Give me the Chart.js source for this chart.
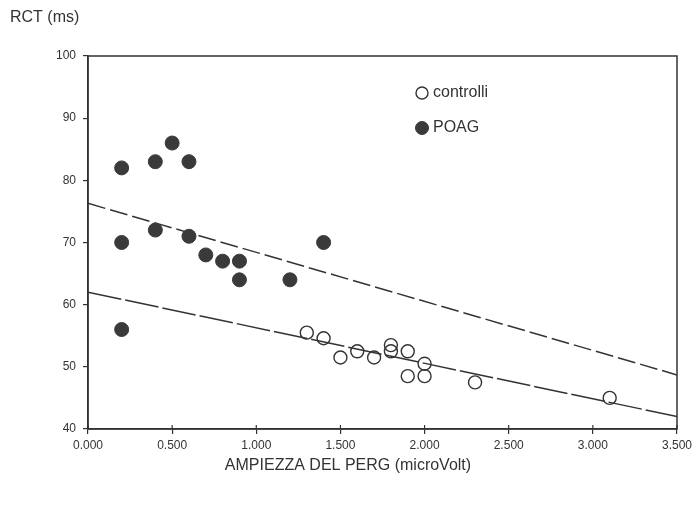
<!DOCTYPE html>
<html>
<head>
<meta charset="utf-8">
<style>
  html, body { margin: 0; padding: 0; background: #fff; }
  #wrap { width: 698px; height: 505px; position: relative; }
</style>
<script src="https://cdn.jsdelivr.net/npm/chart.js@4.4.1/dist/chart.umd.min.js"></script>
</head>
<body>
<div id="wrap"><canvas id="rctChart"></canvas></div>
<script>
// values
const poagX = [0.2, 0.2, 0.2, 0.4, 0.4, 0.5, 0.6, 0.6, 0.7, 0.8, 0.9, 0.9, 1.2, 1.4];
const poagY = [82, 70, 56, 83, 72, 86, 83, 71, 68, 67, 67, 64, 64, 70];

const controlX = [1.3, 1.4, 1.5, 1.6, 1.7, 1.8, 1.8, 1.9, 1.9, 2.0, 2.0, 2.3, 3.1];
const controlY = [55.5, 54.6, 51.5, 52.5, 51.5, 53.5, 52.5, 52.5, 48.5, 50.5, 48.5, 47.5, 45];

// regression lines (end points at x = 0 and x = 3.5)
const lineX = [0, 3.5];
const poagLineY = [76.3, 48.7];
const controlLineY = [62, 42];

const xTickLabels = ['0.000', '0.500', '1.000', '1.500', '2.000', '2.500', '3.000', '3.500'];
const yTickLabels = ['40', '50', '60', '70', '80', '90', '100'];

const ink = '#333';
const toPoints = (xs, ys) => xs.map((x, i) => ({ x: x, y: ys[i] }));

const frameAndText = {
    id: 'frameAndText',
    afterDraw(chart) {
        const ctx = chart.ctx;
        const a = chart.chartArea;
        ctx.save();
        ctx.strokeStyle = ink;
        ctx.lineWidth = 1.5;
        ctx.strokeRect(a.left, a.top, a.right - a.left, a.bottom - a.top);

        // x ticks also poke a little into the plot, like the original
        const xs = chart.scales.x;
        ctx.lineWidth = 1.2;
        xs.ticks.forEach(t => {
            const px = xs.getPixelForValue(t.value);
            ctx.beginPath();
            ctx.moveTo(px, a.bottom);
            ctx.lineTo(px, a.bottom - 4);
            ctx.stroke();
        });

        ctx.fillStyle = ink;
        ctx.textBaseline = 'middle';
        ctx.font = '16px "Liberation Sans", Arial, sans-serif';
        ctx.textAlign = 'left';
        ctx.fillText('RCT (ms)', 10, 18);
        ctx.textAlign = 'center';
        ctx.fillText('AMPIEZZA DEL PERG (microVolt)', 348, 466);

        // legend in the plot
        const rows = [{ ds: chart.data.datasets[1], y: 93 }, { ds: chart.data.datasets[0], y: 128 }];
        ctx.textAlign = 'left';
        rows.forEach(r => {
            ctx.beginPath();
            ctx.arc(422, r.y, r.ds.pointRadius - 0.5, 0, Math.PI * 2);
            ctx.lineWidth = r.ds.borderWidth;
            ctx.strokeStyle = r.ds.borderColor;
            if (r.ds.fill) {
                ctx.fillStyle = r.ds.backgroundColor;
                ctx.fill();
            }
            ctx.stroke();
            ctx.fillStyle = ink;
            ctx.fillText(r.ds.label, 433, r.y);
        });
        ctx.restore();
    }
};

new Chart(document.getElementById('rctChart'), {
    type: 'scatter',
    data: {
        datasets: [
            {
                label: 'POAG',
                data: toPoints(poagX, poagY),
                pointRadius: 7,
                borderWidth: 1,
                backgroundColor: '#3a3a3a',
                borderColor: '#3a3a3a',
                fill: true,
                order: 0
            },
            {
                label: 'controlli',
                data: toPoints(controlX, controlY),
                pointRadius: 6.5,
                borderWidth: 1.4,
                backgroundColor: 'rgba(255,255,255,0)',
                borderColor: ink,
                fill: false,
                order: 0
            },
            {
                label: 'retta POAG',
                type: 'line',
                data: toPoints(lineX, poagLineY),
                showLine: true,
                pointRadius: 0,
                borderWidth: 1.5,
                borderColor: ink,
                borderDash: [18, 5],
                order: 1
            },
            {
                label: 'retta controlli',
                type: 'line',
                data: toPoints(lineX, controlLineY),
                showLine: true,
                pointRadius: 0,
                borderWidth: 1.5,
                borderColor: ink,
                borderDash: [34, 4],
                order: 1
            }
        ]
    },
    options: {
        responsive: true,
        maintainAspectRatio: false,
        animation: false,
        layout: { padding: { left: 10, right: 21, top: 56, bottom: 0 } },
        plugins: {
            legend: { display: false },
            tooltip: { enabled: false }
        },
        scales: {
            x: {
                type: 'linear',
                min: 0,
                max: 3.5,
                afterFit(scale) { scale.height = 76; },
                afterBuildTicks(scale) {
                    scale.ticks = xTickLabels.map(t => ({ value: parseFloat(t) }));
                },
                ticks: {
                    callback: (v, i) => xTickLabels[i],
                    color: ink,
                    font: { size: 12, family: '"Liberation Sans", Arial, sans-serif' },
                    padding: 4,
                    maxRotation: 0,
                    autoSkip: false
                },
                grid: { drawOnChartArea: false, drawTicks: true, tickLength: 5, color: ink, lineWidth: 1.2 },
                border: { display: true, color: ink, width: 1.5 }
            },
            y: {
                min: 40,
                max: 100,
                afterFit(scale) { scale.width = 78; },
                afterBuildTicks(scale) {
                    scale.ticks = yTickLabels.map(t => ({ value: parseFloat(t) }));
                },
                ticks: {
                    callback: (v, i) => yTickLabels[i],
                    color: ink,
                    font: { size: 12, family: '"Liberation Sans", Arial, sans-serif' },
                    padding: 7
                },
                grid: { drawOnChartArea: false, drawTicks: true, tickLength: 5, color: ink, lineWidth: 1.2 },
                border: { display: true, color: ink, width: 1.5 }
            }
        }
    },
    plugins: [frameAndText]
});
</script>
</body>
</html>
